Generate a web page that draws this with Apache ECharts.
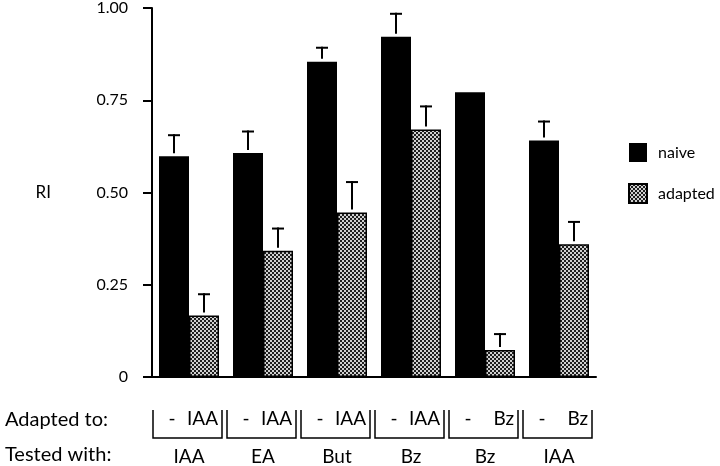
<!DOCTYPE html>
<html>
<head>
<meta charset="utf-8">
<script src="https://cdn.jsdelivr.net/npm/echarts@6/dist/echarts.min.js"></script>
<style>
html,body{margin:0;padding:0;background:#fff;}
#chart{width:720px;height:466px;}
</style>
</head>
<body>
<div id="chart"></div>
<script>
// ---- data ----
const testedWith = ['IAA', 'EA', 'But', 'Bz', 'Bz', 'IAA'];
const adaptedTo = ['IAA', 'IAA', 'IAA', 'IAA', 'Bz', 'Bz'];
const naive = [0.598, 0.607, 0.854, 0.922, 0.772, 0.641];
const naiveErrTop = [0.658, 0.668, 0.895, 0.987, null, 0.695];
const adapted = [0.167, 0.342, 0.446, 0.671, 0.073, 0.360];
const adaptedErrTop = [0.227, 0.405, 0.531, 0.736, 0.119, 0.423];
const yTicks = [0, 0.25, 0.5, 0.75, 1.0];

const FONT = 'Lato, "Open Sans", sans-serif';
const BAR_W = 30;

// checkered fill
const pc = document.createElement('canvas');
pc.width = 4; pc.height = 4;
const pctx = pc.getContext('2d');
pctx.fillStyle = '#d0d0d0'; pctx.fillRect(0, 0, 4, 4);
pctx.fillStyle = '#1e1e1e';
pctx.fillRect(0, 0, 2, 2); pctx.fillRect(2, 2, 2, 2);
const checker = { image: pc, repeat: 'repeat' };

function errData(vals, tops) {
  return vals.map((v, i) => tops[i] == null ? null : [i, v, tops[i]]).filter(d => d);
}

function errRender(offset) {
  return function (params, api) {
    const i = api.value(0);
    const p0 = api.coord([i, api.value(1)]);
    const p1 = api.coord([i, api.value(2)]);
    const x = p0[0] + offset;
    return {
      type: 'group',
      children: [
        { type: 'line', shape: { x1: x, y1: p0[1] - 3, x2: x, y2: p1[1] }, style: { stroke: '#000', lineWidth: 2 } },
        { type: 'line', shape: { x1: x - 6, y1: p1[1] + 1, x2: x + 6, y2: p1[1] + 1 }, style: { stroke: '#000', lineWidth: 2 } }
      ]
    };
  };
}

const chart = echarts.init(document.getElementById('chart'), null, { renderer: 'canvas' });
chart.setOption({
  animation: false,
  backgroundColor: '#fff',
  textStyle: { fontFamily: FONT, color: '#000' },
  grid: { left: 152, top: 6, width: 444, height: 371 },
  legend: {
    data: ['naive', 'adapted'],
    orient: 'vertical',
    left: 628, top: 143,
    padding: 0,
    itemWidth: 18, itemHeight: 19, itemGap: 21,
    icon: 'rect',
    textStyle: { fontFamily: FONT, fontSize: 16, color: '#000', padding: [0, 0, 0, 6] }
  },
  xAxis: {
    type: 'category',
    data: testedWith,
    axisLine: { lineStyle: { color: '#000', width: 2 } },
    axisTick: { show: false },
    axisLabel: { margin: 70, fontFamily: FONT, fontSize: 19, color: '#000' }
  },
  yAxis: {
    type: 'value',
    min: 0, max: 1, interval: 0.25,
    name: 'RI',
    nameLocation: 'middle',
    nameRotate: 0,
    nameGap: 101,
    nameTextStyle: { fontFamily: FONT, fontSize: 17, color: '#000' },
    splitLine: { show: false },
    axisLine: { show: true, lineStyle: { color: '#000', width: 2 } },
    axisTick: { show: true, length: 9, lineStyle: { color: '#000', width: 2 } },
    axisLabel: {
      margin: 24, fontFamily: FONT, fontSize: 16, color: '#000',
      formatter: v => (v === 0 ? '0' : v.toFixed(2))
    }
  },
  series: [
    {
      name: 'naive', type: 'bar', data: naive, barWidth: BAR_W, barGap: '0%',
      itemStyle: { color: '#000' }
    },
    {
      name: 'adapted', type: 'bar', data: adapted, barWidth: BAR_W, barGap: '0%',
      itemStyle: { color: checker, borderColor: '#000', borderWidth: 1.5 }
    },
    {
      name: 'naiveErr', type: 'custom', data: errData(naive, naiveErrTop),
      encode: { x: 0, y: [1, 2] }, renderItem: errRender(-BAR_W / 2), z: 5
    },
    {
      name: 'adaptedErr', type: 'custom', data: errData(adapted, adaptedErrTop),
      encode: { x: 0, y: [1, 2] }, renderItem: errRender(BAR_W / 2), z: 5
    },
    {
      name: 'brackets', type: 'custom', clip: false, silent: true,
      data: adaptedTo.map((a, i) => [i, 0]),
      encode: { x: 0, y: 1 },
      renderItem: function (params, api) {
        const i = api.value(0);
        const p = api.coord([i, 0]);
        const band = api.size([1, 0])[0];
        const l = p[0] - band / 2 + 1, r = p[0] + band / 2 - 4;
        const top = p[1] + 33, bot = p[1] + 61;
        return {
          type: 'group',
          children: [
            { type: 'polyline', shape: { points: [[l, top], [l, bot], [r, bot], [r, top]] },
              style: { stroke: '#000', lineWidth: 1.5, fill: null } },
            { type: 'text', style: { text: '-', x: p[0] - 17, y: p[1] + 42, align: 'center', verticalAlign: 'middle',
              font: '19px ' + FONT, fill: '#000' } },
            { type: 'text', style: { text: adaptedTo[i], x: p[0] + 29, y: p[1] + 42, align: 'right', verticalAlign: 'middle',
              font: '19px ' + FONT, fill: '#000' } }
          ]
        };
      }
    }
  ],
  graphic: [
    { type: 'text', left: 5, top: 410, style: { text: 'Adapted to:', font: '20px ' + FONT, fill: '#000' } },
    { type: 'text', left: 5, top: 445, style: { text: 'Tested with:', font: '20px ' + FONT, fill: '#000' } }
  ]
});
</script>
</body>
</html>
